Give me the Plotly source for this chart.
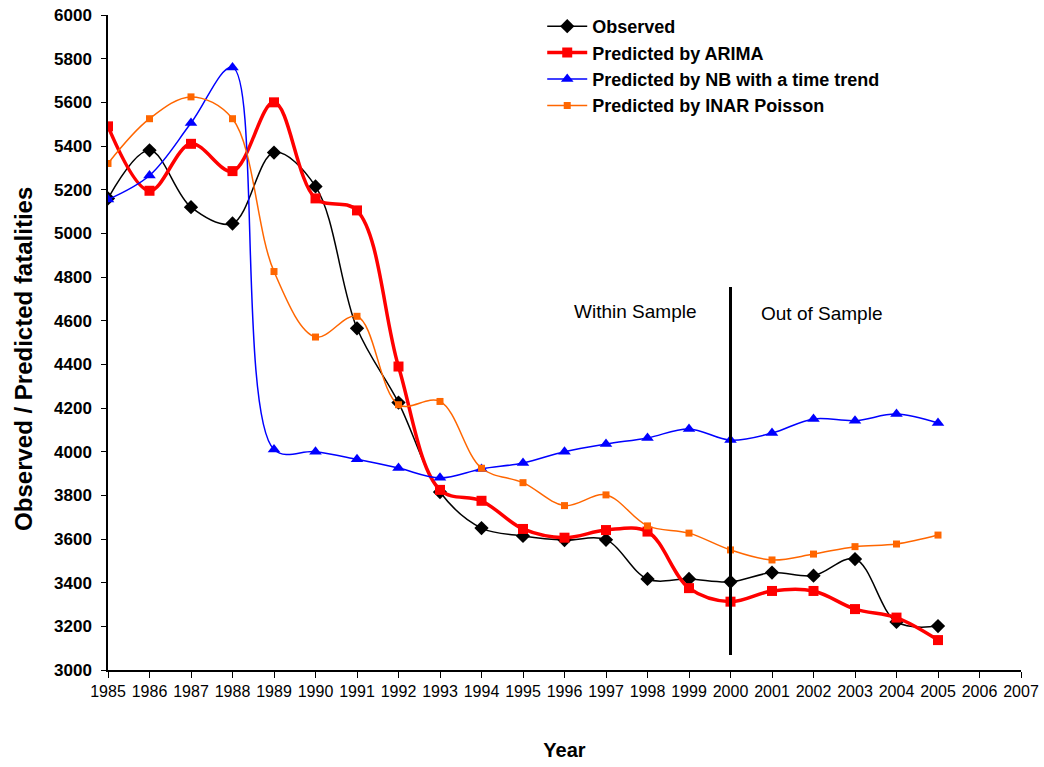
import plotly.graph_objects as go

years = list(range(1985, 2006))

observed = [5160, 5380, 5120, 5045, 5370, 5215, 4565, 4225, 3815, 3650,
            3614, 3595, 3596, 3417, 3417, 3404, 3446, 3432, 3508, 3220, 3201]
arima = [5490, 5195, 5410, 5285, 5600, 5160, 5105, 4390, 3825, 3775,
         3646, 3606, 3641, 3634, 3375, 3313, 3362, 3362, 3279, 3240, 3137]
nb_trend = [5155, 5265, 5505, 5760, 4010, 4000, 3965, 3925, 3880, 3921,
            3948, 4000, 4035, 4063, 4104, 4053, 4085, 4150, 4142, 4172, 4131]
inar = [5320, 5525, 5625, 5525, 4825, 4525, 4620, 4215, 4230, 3924,
        3858, 3753, 3802, 3660, 3627, 3550, 3504, 3531, 3565, 3577, 3618]

series_names = ["Observed", "Predicted by ARIMA",
                "Predicted by NB with a time trend", "Predicted by INAR Poisson"]
tick_years = list(range(1985, 2008))
y_ticks = list(range(3000, 6001, 200))

split_year = 2000
split_low, split_high = 3069, 4754
region_labels = ["Within Sample", "Out of Sample"]

FONT = "Liberation Sans, Arial, sans-serif"

styles = [
    dict(color="#000000", width=1.5, symbol="diamond", size=11),
    dict(color="#FF0000", width=3.5, symbol="square", size=10),
    dict(color="#0000FF", width=1.5, symbol="triangle-up", size=11),
    dict(color="#FF6600", width=1.5, symbol="square", size=7),
]

fig = go.Figure()
for i, (name, vals, st) in enumerate(zip(series_names, [observed, arima, nb_trend, inar], styles)):
    fig.add_trace(go.Scatter(
        x=years, y=vals, name=name, mode="lines+markers",
        legendgroup=f"g{i}",
        line=dict(color=st["color"], width=st["width"], shape="spline", smoothing=1.0),
        marker=dict(symbol=st["symbol"], size=st["size"], color=st["color"],
                    line=dict(width=0)),
    ))

fig.add_shape(type="line", x0=split_year, x1=split_year, y0=split_low, y1=split_high,
              xref="x", yref="y", line=dict(color="black", width=3))

fig.add_annotation(x=1997.72, y=4644, xref="x", yref="y", text=region_labels[0],
                   showarrow=False, font=dict(family=FONT, size=19, color="black"))
fig.add_annotation(x=2002.2, y=4635, xref="x", yref="y", text=region_labels[1],
                   showarrow=False, font=dict(family=FONT, size=19, color="black"))

# y-axis title
fig.add_annotation(x=-0.092, y=0.475, xref="paper", yref="paper",
                   text="<b>Observed / Predicted fatalities</b>", textangle=-90,
                   showarrow=False, xanchor="center", yanchor="middle",
                   font=dict(family=FONT, size=24, color="black"))

fig.update_layout(
    width=1044, height=767,
    margin=dict(l=108, r=23, t=15, b=97, autoexpand=False),
    plot_bgcolor="white", paper_bgcolor="white",
    font=dict(family=FONT, color="black"),
    showlegend=True,
    legend=dict(x=0.4756, y=0.9896, xanchor="left", yanchor="top", yref="container",
                font=dict(family=FONT, size=18, color="black", weight="bold"),
                bgcolor="rgba(255,255,255,0)", tracegroupgap=0,
                itemwidth=40),
    xaxis=dict(range=[1985, 2007], tickvals=tick_years, ticktext=[str(t) for t in tick_years],
               showline=True, linecolor="black", linewidth=1.5, ticks="outside",
               ticklen=6, tickcolor="black", showgrid=False, zeroline=False,
               automargin=False,
               tickfont=dict(family=FONT, size=16, color="black"),
               title=dict(text="<b>Year</b>", font=dict(family=FONT, size=20, color="black"),
                          standoff=44)),
    yaxis=dict(range=[3000, 6000], tickvals=y_ticks,
               showline=True, linecolor="black", linewidth=1.5, ticks="outside",
               ticklen=5, tickcolor="black", showgrid=False, zeroline=False,
               automargin=False, ticklabelstandoff=6,
               tickfont=dict(family=FONT, size=17, color="black", weight="bold")),
)

fig.write_html("out.html", config={"displayModeBar": False})

# remove the default page margin so the figure sits at the window's top-left corner
with open("out.html", "r", encoding="utf-8") as f:
    html = f.read()
html = html.replace("<body>", '<body style="margin:0;padding:0;overflow:hidden;">', 1)
with open("out.html", "w", encoding="utf-8") as f:
    f.write(html)
